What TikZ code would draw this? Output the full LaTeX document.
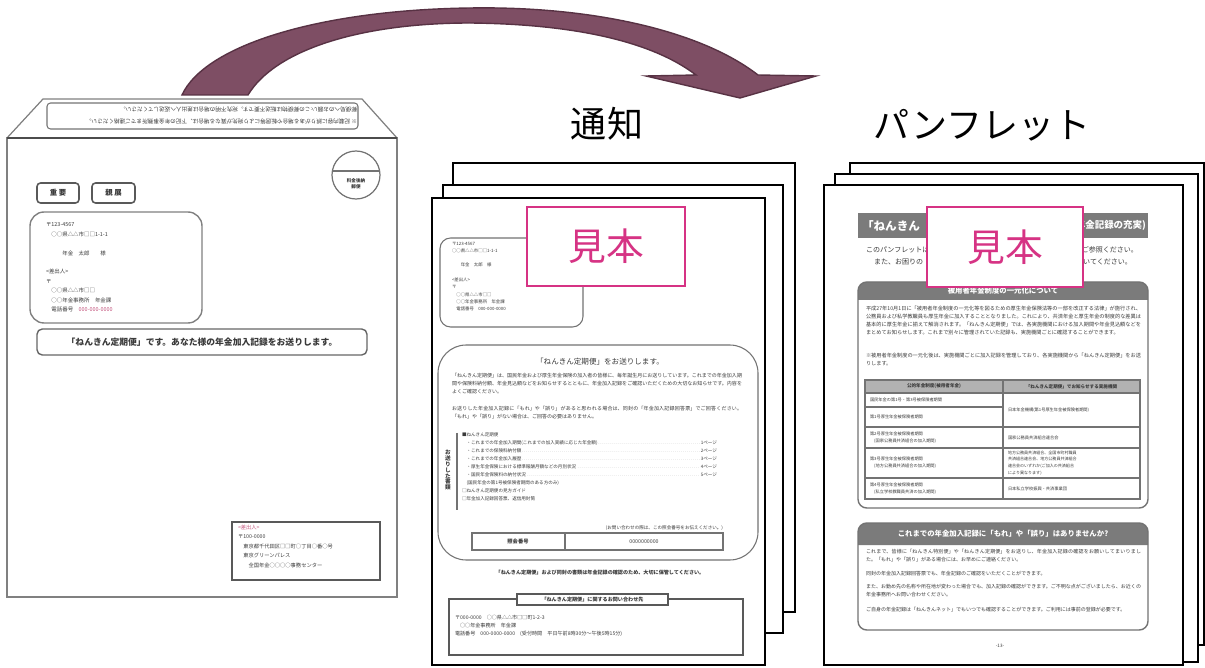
\documentclass[tikz,border=0pt]{standalone}
\usepackage{fontspec}
\setmainfont{Noto Sans CJK JP}
\XeTeXlinebreaklocale "ja"
\XeTeXlinebreakskip=0pt plus 1pt
\usetikzlibrary{positioning}
\definecolor{arrowfill}{RGB}{126,78,100}
\definecolor{arrowedge}{RGB}{88,50,68}
\definecolor{mihonpink}{HTML}{D63384}
\definecolor{bandgray}{HTML}{7B7B7B}
\definecolor{telpink}{HTML}{C4577F}
\definecolor{inkgray}{HTML}{3A3A3A}
\newcommand\fsz[2]{\fontsize{#1}{#2}\selectfont}

\begin{document}
\begin{tikzpicture}[x=0.2mm, y=-0.2mm,
  every node/.style={inner sep=0pt, outer sep=0pt, text=inkgray},
  sheet/.style={draw=black, line width=1.6pt, fill=white},
  envline/.style={draw=black!50, line width=0.7pt},
  docline/.style={draw=black!55, line width=0.6pt},
  mihonbox/.style={draw=mihonpink, line width=1pt, fill=white, text=mihonpink, font=\fsz{21.5}{22}},
  heading/.style={text=black, font=\fsz{20.5}{22}},
  markbox/.style={rectangle, rounded corners=2pt, draw=black!65, line width=0.9pt, minimum height=4mm, font=\fsz{4.2}{5}\bfseries},
  finetext/.style={align=left, anchor=north west},
  finepara/.style={text width=#1, align=justify, anchor=north west, font=\fsz{2.85}{4.55}},
  band/.style={fill=bandgray},
  bandtext/.style={text=white, font=\fsz{4.2}{5}\bfseries},
  cell/.style={anchor=west, align=left, font=\fsz{2.4}{4}},
]
\useasboundingbox (0,0) rectangle (1205,668);

% Envelope
\draw[envline] (7,138) rectangle (397,597);
\draw[envline] (7,138) -- (43,99) -- (362,99) -- (397,138);
\draw[draw=black!70, line width=0.9pt] (7,138) -- (397,138);
\draw[docline, rounded corners=2pt] (47,103) rectangle (358,129);
\node[rotate=180, anchor=west, font=\fsz{3.2}{4}] (flapA) at (357,122) {※ 記載内容に誤りがある場合や転居等により宛先が異なる場合は、下記の年金事務所までご連絡ください。};
\node[rotate=180, anchor=west, font=\fsz{3.2}{4}] (flapB) at (357,110) {郵便局へのお願い:この郵便物は転送不要です。宛先不明の場合は差出人へ返送してください。};

\draw[docline, line width=0.7pt] (356,175) circle[radius=24];
\draw[docline, line width=0.7pt] (332.3,171) -- (379.7,171);
\node[font=\fsz{2.6}{3.4}\bfseries, align=center] (stamp) at (356,184) {料金後納\\郵便};

\node[markbox, minimum width=8.4mm] (juyo) at (58,193) {重\ 要};
\node[markbox, minimum width=8.6mm] (shinten) at (113.5,193) {親\ 展};

\draw[envline, line width=0.8pt, rounded corners=8pt] (30,212) rectangle (202,323);
\node[finetext, font=\fsz{3.1}{5.35}] (envaddr) at (46,223) {〒123-4567\\
  　○○県△△市□□1-1-1\\[5.35pt]
  　　　年金　太郎　　様\\[5.35pt]
  <差出人>\\
  〒\\
  　○○県△△市□□\\
  　○○年金事務所　年金課\\
  　電話番号　\textcolor{telpink}{000-000-0000}};

\node[rectangle, rounded corners=3pt, draw=black!60, line width=0.8pt, minimum width=66mm, minimum height=5.2mm, font=\fsz{5}{6}\bfseries] (envbanner) at (202,342) {「ねんきん定期便」です。あなた様の年金加入記録をお送りします。};

\draw[draw=black!65, line width=0.8pt] (232,522) rectangle (380,580);
\node[finetext, font=\fsz{3}{5.4}] (sender) at (238,525) {\textcolor{telpink}{<差出人>}\\
  〒100-0000\\
  　東京都千代田区□□町○丁目○番○号\\
  　東京グリーンパレス\\
  　　全国年金○○○○事務センター};

% Arrow
\filldraw[fill=arrowfill, draw=arrowedge, line width=0.8pt]
  (182,95) .. controls (205,45) and (320,10) .. (470,8)
  .. controls (590,6) and (700,30) .. (758,75)
  -- (816,76) -- (740,98) -- (646,76) -- (696,75)
  .. controls (650,40) and (570,24) .. (470,23)
  .. controls (360,23) and (275,50) .. (248,95) -- cycle;

% Titles
\node[heading] (tsuchi) at (607,124) {通知};
\node[heading] (pamph) at (982,125) {パンフレット};

% Notice stack
\draw[sheet] (453,163) rectangle (795,612);
\draw[sheet] (443,185) rectangle (783,633);
\draw[sheet] (432,198) rectangle (765,665);

\draw[docline, rounded corners=6pt] (440,238) rectangle (583,327);
\node[finetext, font=\fsz{2.5}{4.2}] (noteaddr) at (452,242) {〒123-4567\\
  ○○県△△市□□1-1-1\\[4pt]
  　　年金　太郎　様\\[4pt]
  <差出人>\\
  〒\\
  　○○県△△市□□\\
  　○○年金事務所　年金課\\
  　電話番号　000-000-0000};
\node[mihonbox, minimum width=31.6mm, minimum height=15.8mm] (mihonA) at (606,246.5) {見本};

\draw[docline, rounded corners=16pt] (438,345) rectangle (758,560);
\node[font=\fsz{4.3}{5}] (notetitle) at (600,362) {「ねんきん定期便」をお送りします。};
\node[finepara=58mm] (notep1) at (452,373) {「ねんきん定期便」は、国民年金および厚生年金保険の加入者の皆様に、毎年誕生月にお送りしています。これまでの年金加入期間や保険料納付額、年金見込額などをお知らせするとともに、年金加入記録をご確認いただくための大切なお知らせです。内容をよくご確認ください。};
\node[finepara=58mm] (notep2) at (452,406) {お送りした年金加入記録に「もれ」や「誤り」があると思われる場合は、同封の「年金加入記録回答票」でご回答ください。「もれ」や「誤り」がない場合は、ご回答の必要はありません。};

\node[font=\fsz{3.2}{3.4}\bfseries, align=center] (vlabel) at (448,470) {お\\送\\り\\し\\た\\書\\類};
\draw[docline] (457,433) -- (457,510);
\node[finetext, text width=51mm, font=\fsz{2.6}{4.55}] (notelist) at (462,433) {■ねんきん定期便\\
  　・これまでの年金加入期間(これまでの加入実績に応じた年金額)\textcolor{black!35}{\dotfill}1ページ\\
  　・これまでの保険料納付額\textcolor{black!35}{\dotfill}2ページ\\
  　・これまでの年金加入履歴\textcolor{black!35}{\dotfill}3ページ\\
  　・厚生年金保険における標準報酬月額などの月別状況\textcolor{black!35}{\dotfill}4ページ\\
  　・国民年金保険料の納付状況\textcolor{black!35}{\dotfill}5ページ\\
  　(国民年金の第1号被保険者期間のある方のみ)\\
  □ねんきん定期便の見方ガイド\\
  □年金加入記録回答票、返信用封筒};

\node[anchor=east, font=\fsz{2.6}{3}] (notenote) at (723,528) {(お問い合わせの際は、この照会番号をお伝えください。)};
\draw[docline] (472,533) rectangle (723,550);
\draw[docline] (565,533) -- (565,550);
\node[font=\fsz{3}{3.5}\bfseries] (refkey) at (518,541.5) {照会番号};
\node[font=\fsz{3}{3.5}] (refval) at (644,541.5) {0000000000};

\node[font=\fsz{2.9}{3.5}\bfseries] (notekeep) at (600,573) {「ねんきん定期便」および同封の書類は年金記録の確認のため、大切に保管してください。};

\draw[draw=black!65, line width=0.7pt] (449,599) rectangle (743,655);
\node[rectangle, draw=black!65, line width=0.6pt, fill=white, minimum width=30.2mm, minimum height=2.2mm, font=\fsz{2.9}{3.5}\bfseries] (contacttitle) at (592.5,599.5) {「ねんきん定期便」に関するお問い合わせ先};
\node[finetext, font=\fsz{2.9}{4.7}] (contact) at (455,615) {〒000-0000　○○県△△市□□町1-2-3\\
  　○○年金事務所　年金課\\
  電話番号　000-0000-0000　(受付時間　平日午前8時30分～午後5時15分)};

% Pamphlet stack
\draw[sheet] (850,163) rectangle (1204,645);
\draw[sheet] (835,174) rectangle (1198,662);
\draw[sheet] (824,185) rectangle (1183,665);

\fill[band] (858,213) rectangle (1148,238);
\node[anchor=west, text=white, font=\fsz{6.6}{7}\bfseries] (pamphheadL) at (862,225.5) {「ねんきん};
\node[anchor=east, text=white, font=\fsz{5.4}{6}\bfseries] (pamphheadR) at (1146,225.5) {年金記録の充実)};
\node[anchor=west, font=\fsz{4}{5}] (pamphl1L) at (866,250) {このパンフレットは};
\node[anchor=east, font=\fsz{4}{5}] (pamphl1R) at (1138,250) {ご参照ください。};
\node[anchor=west, font=\fsz{4}{5}] (pamphl2L) at (874,262) {また、お困りの};
\node[anchor=east, font=\fsz{4}{5}] (pamphl2R) at (1132,262) {いてください。};

% box 1
\fill[band] (858,300) {[rounded corners=5pt] -- (858,282) -- (1148,282)} -- (1148,300) -- cycle;
\draw[docline, line width=0.8pt, rounded corners=5pt] (858,282) rectangle (1148,508);
\node[bandtext] (box1head) at (1003,291) {被用者年金制度の一元化について};
\node[finepara=55mm, font=\fsz{2.95}{4.55}] (box1p1) at (866,306) {平成27年10月1日に「被用者年金制度の一元化等を図るための厚生年金保険法等の一部を改正する法律」が施行され、公務員および私学教職員も厚生年金に加入することとなりました。これにより、共済年金と厚生年金の制度的な差異は基本的に厚生年金に揃えて解消されます。「ねんきん定期便」では、各実施機関における加入期間や年金見込額などをまとめてお知らせします。これまで別々に管理されていた記録も、実施機関ごとに確認することができます。};
\node[finepara=55mm, font=\fsz{2.95}{4.55}] (box1p2) at (866,353) {※被用者年金制度の一元化後は、実施機関ごとに加入記録を管理しており、各実施機関から「ねんきん定期便」をお送りします。};

\fill[black!30] (865,380) rectangle (1140,393);
\draw[docline] (865,380) rectangle (1140,499);
\draw[docline] (1003,380) -- (1003,499);
\foreach \yy in {393,427,448,478} \draw[docline] (865,\yy) -- (1140,\yy);
\draw[docline] (865,407) -- (1003,407);
\node[font=\fsz{2.6}{3}\bfseries] (colA) at (934,386.5) {公的年金制度(被用者年金)};
\node[font=\fsz{2.6}{3}\bfseries] (colB) at (1071.5,386.5) {「ねんきん定期便」でお知らせする実施機関};
\node[cell] (r1a) at (870,400) {国民年金の第1号・第3号被保険者期間};
\node[cell] (r2a) at (870,417) {第1号厚生年金被保険者期間};
\node[cell] (r12b) at (1008,410) {日本年金機構(第1号厚生年金被保険者期間)};
\node[cell] (r3a) at (870,437.5) {第2号厚生年金被保険者期間\\　(国家公務員共済組合の加入期間)};
\node[cell] (r3b) at (1008,437.5) {国家公務員共済組合連合会};
\node[cell] (r4a) at (870,463) {第3号厚生年金被保険者期間\\　(地方公務員共済組合の加入期間)};
\node[cell, font=\fsz{2.3}{3.8}] (r4b) at (1008,463) {地方公務員共済組合、全国市町村職員\\共済組合連合会、地方公務員共済組合\\連合会のいずれか(ご加入の共済組合\\により異なります)};
\node[cell] (r5a) at (870,488.5) {第4号厚生年金被保険者期間\\　(私立学校教職員共済の加入期間)};
\node[cell] (r5b) at (1008,488.5) {日本私立学校振興・共済事業団};

% box 2
\fill[band] (858,545) {[rounded corners=5pt] -- (858,523) -- (1148,523)} -- (1148,545) -- cycle;
\draw[docline, line width=0.8pt, rounded corners=5pt] (858,523) rectangle (1148,630);
\node[bandtext] (box2head) at (1003,534) {これまでの年金加入記録に「もれ」や「誤り」はありませんか?};
\node[finepara=55mm] (box2p1) at (866,549) {これまで、皆様に「ねんきん特別便」や「ねんきん定期便」をお送りし、年金加入記録の確認をお願いしてまいりました。「もれ」や「誤り」がある場合には、お早めにご連絡ください。};
\node[finepara=55mm] (box2p2) at (866,571) {同封の年金加入記録回答票でも、年金記録のご確認をいただくことができます。};
\node[finepara=55mm] (box2p3) at (866,584) {また、お勤め先の名称や所在地が変わった場合でも、加入記録の確認ができます。ご不明な点がございましたら、お近くの年金事務所へお問い合わせください。};
\node[finepara=55mm] (box2p4) at (866,607) {ご自身の年金記録は「ねんきんネット」でもいつでも確認することができます。ご利用には事前の登録が必要です。};
\node[font=\fsz{2.6}{3}] (pageno) at (1000,646) {-13-};

\node[mihonbox, minimum width=31.2mm, minimum height=16mm] (mihonB) at (1005,247) {見本};

\end{tikzpicture}
\end{document}
